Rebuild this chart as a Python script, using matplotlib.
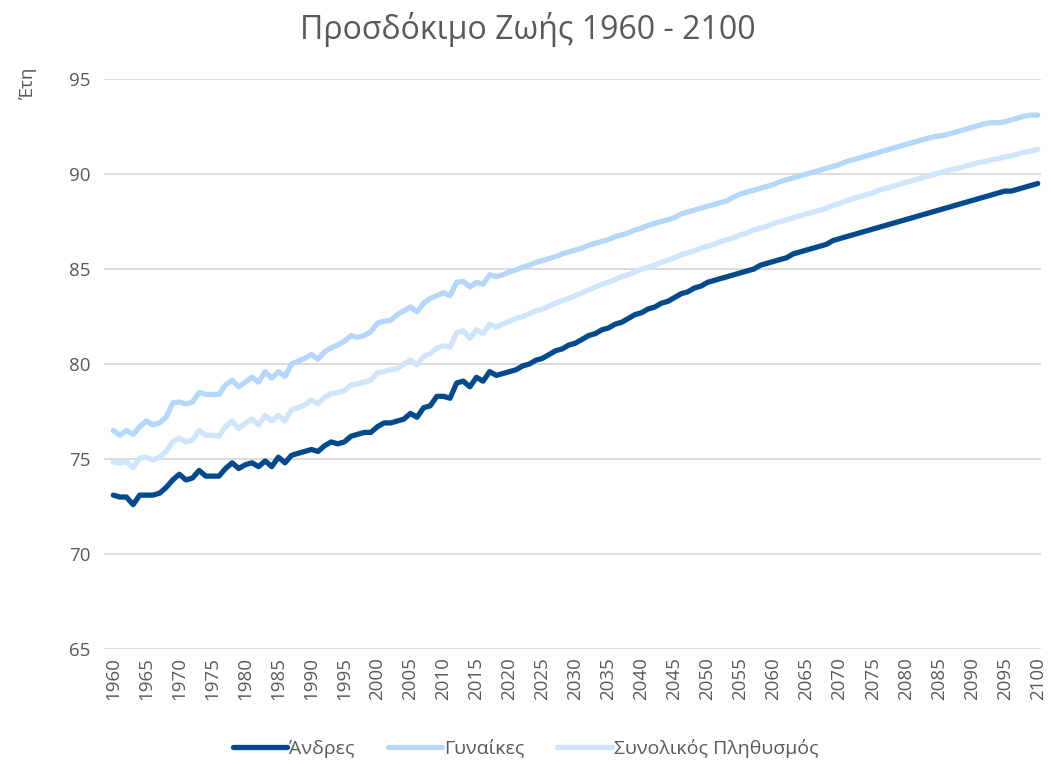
import matplotlib
matplotlib.use("Agg")
import matplotlib.pyplot as plt
import numpy as np

plt.rcParams['font.family'] = ['Open Sans', 'DejaVu Sans']

years = list(range(1960, 2101))

men = [
    73.1, 73.0, 73.0, 72.6, 73.1, 73.1, 73.1, 73.2, 73.5, 73.9,   # 1960s
    74.2, 73.9, 74.0, 74.4, 74.1, 74.1, 74.1, 74.5, 74.8, 74.5,   # 1970s
    74.7, 74.8, 74.6, 74.9, 74.6, 75.1, 74.8, 75.2, 75.3, 75.4,   # 1980s
    75.5, 75.4, 75.7, 75.9, 75.8, 75.9, 76.2, 76.3, 76.4, 76.4,   # 1990s
    76.7, 76.9, 76.9, 77.0, 77.1, 77.4, 77.2, 77.7, 77.8, 78.3,   # 2000s
    78.3, 78.2, 79.0, 79.1, 78.8, 79.3, 79.1, 79.6, 79.4, 79.5,   # 2010s
    79.6, 79.7, 79.9, 80.0, 80.2, 80.3, 80.5, 80.7, 80.8, 81.0,   # 2020s
    81.1, 81.3, 81.5, 81.6, 81.8, 81.9, 82.1, 82.2, 82.4, 82.6,   # 2030s
    82.7, 82.9, 83.0, 83.2, 83.3, 83.5, 83.7, 83.8, 84.0, 84.1,   # 2040s
    84.3, 84.4, 84.5, 84.6, 84.7, 84.8, 84.9, 85.0, 85.2, 85.3,   # 2050s
    85.4, 85.5, 85.6, 85.8, 85.9, 86.0, 86.1, 86.2, 86.3, 86.5,   # 2060s
    86.6, 86.7, 86.8, 86.9, 87.0, 87.1, 87.2, 87.3, 87.4, 87.5,   # 2070s
    87.6, 87.7, 87.8, 87.9, 88.0, 88.1, 88.2, 88.3, 88.4, 88.5,   # 2080s
    88.6, 88.7, 88.8, 88.9, 89.0, 89.1, 89.1, 89.2, 89.3, 89.4,   # 2090s
    89.5,
]

women = [
    76.5, 76.25, 76.5, 76.3, 76.7, 77.0, 76.8, 76.9, 77.2, 77.95,
    78.0, 77.9, 78.0, 78.5, 78.4, 78.4, 78.4, 78.9, 79.15, 78.8,
    79.05, 79.3, 79.05, 79.6, 79.25, 79.6, 79.35, 80.0, 80.15, 80.3,
    80.5, 80.25, 80.65, 80.85, 81.0, 81.2, 81.5, 81.4, 81.5, 81.7,
    82.15, 82.25, 82.3, 82.6, 82.8, 83.0, 82.75, 83.2, 83.45, 83.6,
    83.75, 83.6, 84.3, 84.35, 84.05, 84.3, 84.2, 84.7, 84.6, 84.7,
    84.85, 84.95, 85.1, 85.2, 85.35, 85.45, 85.55, 85.65, 85.8, 85.9,
    86.0, 86.1, 86.25, 86.35, 86.45, 86.55, 86.7, 86.8, 86.9, 87.05,
    87.15, 87.3, 87.4, 87.5, 87.6, 87.7, 87.9, 88.0, 88.1, 88.2,
    88.3, 88.4, 88.5, 88.6, 88.8, 88.95, 89.05, 89.15, 89.25, 89.35,
    89.45, 89.6, 89.7, 89.8, 89.9, 90.0, 90.1, 90.2, 90.3, 90.4,
    90.5, 90.65, 90.75, 90.85, 90.95, 91.05, 91.15, 91.25, 91.35, 91.45,
    91.55, 91.65, 91.75, 91.85, 91.95, 92.0, 92.05, 92.15, 92.25, 92.35,
    92.45, 92.55, 92.65, 92.7, 92.7, 92.75, 92.85, 92.95, 93.05, 93.1,
    93.1,
]

total = [
    74.85, 74.8, 74.85, 74.55, 75.05, 75.1, 74.95, 75.1, 75.4, 75.9,
    76.1, 75.9, 76.0, 76.5, 76.25, 76.25, 76.2, 76.7, 77.0, 76.6,
    76.9, 77.1, 76.8, 77.3, 77.0, 77.3, 77.0, 77.6, 77.7, 77.85,
    78.1, 77.9, 78.25, 78.45, 78.5, 78.6, 78.9, 78.95, 79.05, 79.15,
    79.55, 79.6, 79.7, 79.75, 80.0, 80.2, 79.95, 80.4, 80.55, 80.85,
    80.95, 80.9, 81.65, 81.75, 81.35, 81.8, 81.6, 82.1, 81.95, 82.1,
    82.25, 82.4, 82.5, 82.65, 82.8, 82.9, 83.05, 83.2, 83.35, 83.45,
    83.6, 83.75, 83.9, 84.05, 84.2, 84.3, 84.45, 84.6, 84.7, 84.85,
    85.0, 85.1, 85.2, 85.35, 85.45, 85.6, 85.75, 85.85, 85.95, 86.1,
    86.2, 86.3, 86.45, 86.55, 86.65, 86.8, 86.9, 87.05, 87.15, 87.25,
    87.4, 87.5, 87.6, 87.7, 87.8, 87.9, 88.0, 88.1, 88.2, 88.35,
    88.45, 88.6, 88.7, 88.8, 88.9, 89.0, 89.15, 89.25, 89.35, 89.45,
    89.55, 89.65, 89.75, 89.85, 89.95, 90.05, 90.15, 90.25, 90.3, 90.4,
    90.5, 90.6, 90.65, 90.75, 90.8, 90.9, 90.95, 91.05, 91.15, 91.2,
    91.3,
]

labels = ['Άνδρες', 'Γυναίκες', 'Συνολικός Πληθυσμός']
colors = ['#034A8C', '#B4D7FB', '#CFE5FC']
text_color = '#595959'

fig = plt.figure(figsize=(10.51, 7.65), dpi=100)
ax = fig.add_axes([0.099, 0.1516, 0.8915, 0.7451])

ax.plot(years, men, color=colors[0], lw=3.8, label=labels[0], solid_capstyle='round', zorder=4)
ax.plot(years, women, color=colors[1], lw=3.8, label=labels[1], solid_capstyle='round', zorder=3)
ax.plot(years, total, color=colors[2], lw=3.8, label=labels[2], solid_capstyle='round', zorder=2)

ax.set_xlim(1958.6, 2100.5)
ax.set_ylim(65, 95)
ax.set_yticks(np.arange(65, 96, 5))
ax.set_xticks(np.arange(1960, 2101, 5))
ax.tick_params(axis='x', labelrotation=90, length=0, pad=6, labelsize=13.5, colors=text_color)
ax.tick_params(axis='y', length=0, pad=10, labelsize=13.5, colors=text_color)
ax.grid(axis='y', color='#D9D9D9', lw=1.3)
ax.set_axisbelow(True)
for s in ax.spines.values():
    s.set_visible(False)

fig.text(0.502, 0.962, 'Προσδόκιμο Ζωής 1960 - 2100', ha='center', va='center',
         fontsize=23, color=text_color)
fig.text(0.027, 0.892, 'Έτη', rotation=90, ha='center', va='center',
         fontsize=13.5, color=text_color)

fig.legend(loc='center', bbox_to_anchor=(0.5, 0.022), ncol=3, frameon=False,
           fontsize=14, handlelength=2.8, handletextpad=0.1, columnspacing=1.7,
           labelcolor=text_color)

plt.savefig('out.png', dpi=100)
plt.close()
